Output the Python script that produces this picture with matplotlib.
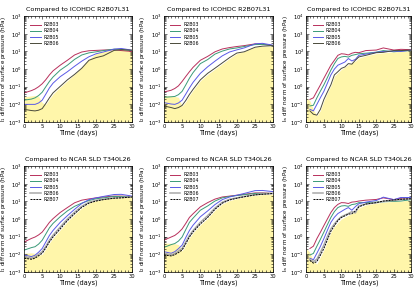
import numpy as np
from matplotlib import pyplot as plt

# time axes (days)
days = [0, 2, 3, 4, 5, 6, 7, 8, 10, 12, 14, 16, 18, 20, 22, 25, 27, 30]
days_inf = [1, 2, 3, 4, 5, 6, 7, 8, 9, 10, 11, 12, 13, 14, 15, 17, 20, 22, 25, 27, 30]
days_inf_ref = [0, 1, 2, 3, 4, 5, 6, 7, 8, 10, 12, 14, 15, 17, 20, 22, 25, 27, 30]

# log10 of the diff norms (hPa)
# --- compared to ICOHDC R2B07L31 ---
ico_l1 = {
    "R2B03": [-1.35, -1.22, -1.13, -1.0, -0.83, -0.6, -0.33, -0.1, 0.22, 0.5, 0.8, 0.97, 1.04, 1.06, 1.08, 1.1, 1.05, 1.0],
    "R2B04": [-1.76, -1.7, -1.63, -1.5, -1.31, -1.0, -0.7, -0.45, -0.06, 0.22, 0.55, 0.8, 0.92, 0.98, 1.05, 1.13, 1.12, 1.05],
    "R2B05": [-2.0, -2.0, -2.0, -1.92, -1.76, -1.42, -1.07, -0.8, -0.43, -0.15, 0.16, 0.45, 0.7, 0.87, 0.97, 1.13, 1.17, 1.07],
    "R2B06": [-2.28, -2.35, -2.37, -2.33, -2.24, -1.95, -1.63, -1.35, -0.98, -0.61, -0.3, 0.05, 0.5, 0.65, 0.75, 1.06, 1.1, 1.07],
}
ico_l1_ref = [-1.57, -1.52, -1.5, -1.55, -1.9, -2.0, -1.7, -1.42, -1.02, -0.66, -0.3, 0.1, 0.55, 0.9, 1.0, 1.1, 1.13, 1.15]

ico_l2 = {
    "R2B03": [-1.3, -1.2, -1.1, -0.95, -0.7, -0.42, -0.15, 0.1, 0.5, 0.72, 0.98, 1.14, 1.22, 1.28, 1.33, 1.43, 1.42, 1.33],
    "R2B04": [-1.6, -1.57, -1.55, -1.45, -1.26, -0.9, -0.52, -0.2, 0.31, 0.54, 0.85, 1.02, 1.14, 1.2, 1.28, 1.39, 1.4, 1.33],
    "R2B05": [-1.9, -1.98, -2.0, -1.92, -1.76, -1.42, -1.07, -0.75, -0.24, 0.13, 0.45, 0.75, 0.97, 1.09, 1.2, 1.43, 1.46, 1.35],
    "R2B06": [-2.09, -2.18, -2.24, -2.18, -2.06, -1.78, -1.44, -1.15, -0.61, -0.24, 0.05, 0.35, 0.65, 0.91, 0.98, 1.24, 1.3, 1.33],
}
ico_l2_ref = [-1.5, -1.52, -1.55, -1.6, -2.1, -1.85, -1.5, -1.2, -0.66, -0.3, 0.0, 0.3, 0.6, 0.88, 1.0, 1.25, 1.3, 1.3]

ico_linf = {
    "R2B03": [-0.72, -0.63, -0.26, 0.1, 0.48, 0.85, 1.22, 1.5, 1.78, 1.87, 1.85, 1.8, 1.9, 1.95, 1.93, 2.05, 2.08, 2.2, 2.08, 2.12, 2.1],
    "R2B04": [-1.09, -1.05, -0.63, -0.25, 0.11, 0.52, 0.94, 1.3, 1.6, 1.69, 1.72, 1.68, 1.78, 1.82, 1.87, 1.9, 1.96, 2.05, 1.98, 2.02, 2.05],
    "R2B05": [-1.28, -1.37, -1.0, -0.62, -0.26, 0.2, 0.67, 1.0, 1.22, 1.31, 1.4, 1.6, 1.46, 1.55, 1.78, 1.85, 1.95, 2.0, 2.02, 2.0, 2.08],
    "R2B06": [-1.37, -1.56, -1.61, -1.28, -0.72, -0.3, 0.11, 0.67, 0.85, 1.04, 1.12, 1.31, 1.28, 1.5, 1.69, 1.78, 1.93, 1.95, 2.05, 2.05, 2.08],
}
ico_linf_ref = [-0.63, -0.8, -1.3, -1.65, -1.35, -0.8, -0.35, 0.05, 0.6, 0.98, 1.25, 1.45, 1.62, 1.75, 1.88, 1.92, 1.98, 2.0, 2.05]

# --- compared to NCAR SLD T340L26 ---
ncar_l1 = {
    "R2B03": [-1.3, -1.1, -1.02, -0.9, -0.74, -0.47, -0.19, 0.02, 0.37, 0.65, 0.92, 1.07, 1.14, 1.2, 1.25, 1.3, 1.3, 1.28],
    "R2B04": [-1.76, -1.62, -1.57, -1.42, -1.2, -0.85, -0.5, -0.25, 0.13, 0.46, 0.72, 0.9, 1.05, 1.15, 1.2, 1.28, 1.28, 1.25],
    "R2B05": [-2.04, -2.13, -2.05, -1.88, -1.67, -1.3, -0.93, -0.65, -0.19, 0.19, 0.55, 0.88, 1.1, 1.2, 1.28, 1.39, 1.4, 1.3],
    "R2B06": [-2.13, -2.22, -2.15, -2.0, -1.85, -1.55, -1.2, -0.92, -0.46, 0.0, 0.38, 0.72, 0.95, 1.06, 1.12, 1.2, 1.22, 1.25],
    "R2B07": [-2.22, -2.28, -2.22, -2.08, -1.94, -1.64, -1.3, -1.02, -0.56, -0.09, 0.3, 0.66, 0.9, 1.02, 1.1, 1.18, 1.2, 1.25],
}
ncar_l1_ref = [-1.94, -1.92, -1.95, -2.05, -2.0, -1.7, -1.36, -1.08, -0.62, -0.15, 0.25, 0.62, 0.9, 1.05, 1.15, 1.25, 1.28, 1.3]

ncar_l2 = {
    "R2B03": [-1.2, -1.02, -0.93, -0.77, -0.56, -0.25, 0.09, 0.3, 0.69, 0.93, 1.13, 1.25, 1.3, 1.35, 1.4, 1.48, 1.48, 1.45],
    "R2B04": [-1.61, -1.45, -1.39, -1.25, -1.02, -0.6, -0.19, 0.05, 0.5, 0.74, 1.02, 1.2, 1.28, 1.33, 1.38, 1.45, 1.46, 1.45],
    "R2B05": [-1.85, -1.94, -1.85, -1.68, -1.48, -1.05, -0.65, -0.35, 0.13, 0.46, 0.82, 1.1, 1.25, 1.35, 1.45, 1.61, 1.62, 1.55],
    "R2B06": [-1.94, -2.04, -1.96, -1.82, -1.67, -1.3, -0.93, -0.65, -0.19, 0.19, 0.62, 0.95, 1.12, 1.2, 1.28, 1.38, 1.42, 1.45],
    "R2B07": [-2.04, -2.09, -2.02, -1.9, -1.76, -1.4, -1.02, -0.73, -0.28, 0.09, 0.55, 0.9, 1.08, 1.18, 1.26, 1.37, 1.4, 1.45],
}
ncar_l2_ref = [-1.35, -1.38, -1.4, -1.45, -1.82, -1.46, -1.08, -0.78, -0.33, 0.04, 0.5, 0.85, 1.05, 1.15, 1.25, 1.35, 1.38, 1.42]

ncar_linf = {
    "R2B03": [-0.67, -0.54, -0.11, 0.25, 0.63, 1.0, 1.37, 1.65, 1.83, 1.93, 1.92, 1.88, 1.96, 1.98, 2.02, 2.07, 2.11, 2.2, 2.1, 2.18, 2.18],
    "R2B04": [-1.04, -0.95, -0.54, -0.15, 0.26, 0.68, 1.09, 1.42, 1.65, 1.74, 1.76, 1.72, 1.82, 1.85, 1.93, 1.93, 1.96, 1.98, 2.0, 2.02, 2.1],
    "R2B05": [-1.22, -1.31, -0.94, -0.55, -0.11, 0.36, 0.81, 1.1, 1.31, 1.43, 1.55, 1.65, 1.5, 1.7, 1.87, 1.96, 2.05, 2.24, 2.1, 2.22, 2.22],
    "R2B06": [-1.31, -1.41, -1.28, -0.9, -0.48, 0.0, 0.44, 0.72, 0.95, 1.13, 1.22, 1.31, 1.42, 1.35, 1.74, 1.85, 1.93, 2.0, 2.05, 2.1, 2.15],
    "R2B07": [-1.35, -1.5, -1.41, -1.05, -0.67, -0.18, 0.31, 0.62, 0.91, 1.09, 1.18, 1.28, 1.3, 1.46, 1.69, 1.85, 1.93, 2.02, 2.08, 2.12, 2.15],
}
ncar_linf_ref = [-0.67, -0.9, -1.4, -1.55, -1.15, -0.75, -0.25, 0.25, 0.58, 1.0, 1.22, 1.4, 1.62, 1.8, 1.9, 1.95, 2.0, 2.02, 2.08]

titles = ["Compared to ICOHDC R2B07L31", "Compared to NCAR SLD T340L26"]
ylabels = [r"l$_1$ diff norm of surface pressure (hPa)",
           r"l$_2$ diff norm of surface pressure (hPa)",
           r"l$_\infty$ diff norm of surface pressure (hPa)"]

styles = {
    "R2B03": dict(color="#b8305c", lw=0.7),
    "R2B04": dict(color="#3a9a78", lw=0.7),
    "R2B05": dict(color="#5a5ae6", lw=0.7),
    "R2B06": dict(color="#4a4a3a", lw=0.7),
    "R2B07": dict(color="black", lw=0.7, ls=(0, (2, 1))),
}

panels = [
    [(days, ico_l1, days, ico_l1_ref, (1e-3, 1e3)),
     (days, ico_l2, days, ico_l2_ref, (1e-3, 1e3)),
     (days_inf, ico_linf, days_inf_ref, ico_linf_ref, (1e-2, 1e4))],
    [(days, ncar_l1, days, ncar_l1_ref, (1e-3, 1e3)),
     (days, ncar_l2, days, ncar_l2_ref, (1e-3, 1e3)),
     (days_inf, ncar_linf, days_inf_ref, ncar_linf_ref, (1e-2, 1e4))],
]

fig = plt.figure(figsize=(4.18, 2.94), dpi=100)
lefts = [0.058, 0.392, 0.733]
widths = [0.258, 0.262, 0.251]
bottoms = [0.585, 0.075]

for r in range(2):
    for c in range(3):
        t, series, t_ref, ref, ylim = panels[r][c]
        ax = fig.add_axes([lefts[c], bottoms[r], widths[c], 0.36])
        ax.set_yscale("log")
        ax.fill_between(t_ref, ylim[0], 10 ** np.array(ref), color="#fff6aa", lw=0)
        for name, vals in series.items():
            st = dict(styles[name])
            if r == 1 and name == "R2B06":
                st = dict(color="#a8a8a8", lw=1.1)
            ax.plot(t, 10 ** np.array(vals), label=name, **st)
        ax.set_xlim(0, 30)
        ax.set_ylim(*ylim)
        ax.set_xticks(range(0, 31, 5))
        ax.set_xticks(range(0, 31), minor=True)
        ax.tick_params(which="both", direction="in", top=True, right=True,
                       labelsize=3.8, pad=1.5, width=0.4)
        ax.tick_params(which="major", length=2.5)
        ax.tick_params(which="minor", length=1.2)
        for sp in ax.spines.values():
            sp.set_linewidth(0.5)
        ax.set_title(titles[r], fontsize=4.6, pad=4)
        ax.set_xlabel("Time (days)", fontsize=4.7, labelpad=0.5)
        ax.set_ylabel(ylabels[c], fontsize=4.1, labelpad=0.5)
        ax.legend(loc="upper left", frameon=False, fontsize=3.4,
                  handlelength=2.2, handletextpad=0.6, labelspacing=0.25,
                  borderaxespad=0.9)

plt.savefig("out.png", dpi=100)
